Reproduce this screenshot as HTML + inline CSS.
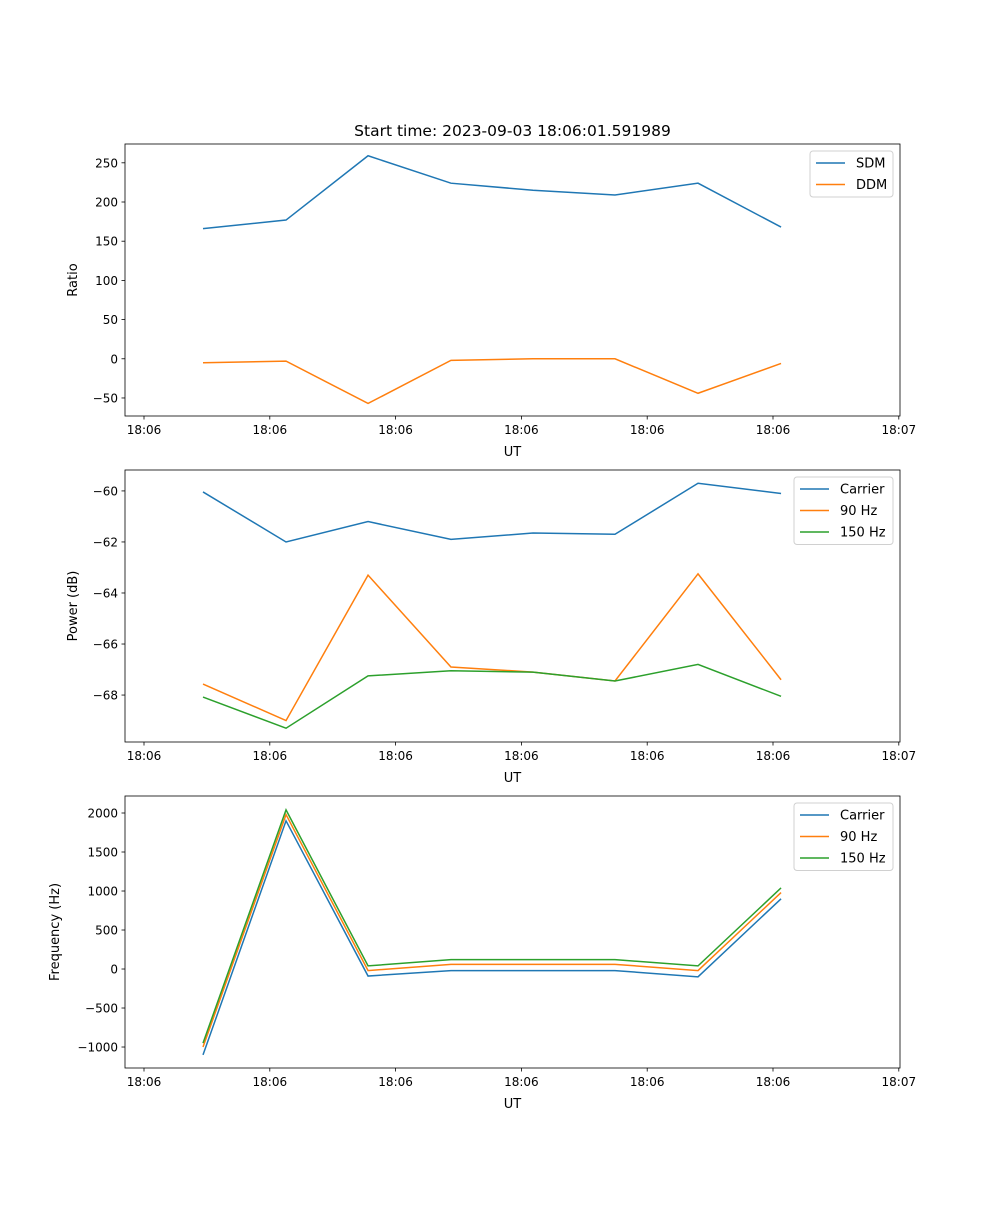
<!DOCTYPE html>
<html><head><meta charset="utf-8"><style>
html,body{margin:0;padding:0;background:#fff;}
svg text{font-family:"DejaVu Sans","Liberation Sans",sans-serif;fill:#000;}
</style></head><body>
<svg id="chart" width="1000" height="1200" xmlns="http://www.w3.org/2000/svg">
<rect width="1000" height="1200" fill="#fff"/>
<text x="512.5" y="136" font-size="15.5" text-anchor="middle">Start time: 2023-09-03 18:06:01.591989</text>
</svg>
<script>
const times = [0.469, 1.129, 1.781, 2.44, 3.092, 3.744, 4.404, 5.064];
const xTickVals = [0,1,2,3,4,5,6];
const xTickLabels = ["18:06","18:06","18:06","18:06","18:06","18:06","18:07"];
const sdm = [166, 177, 259, 224, 215, 209, 224, 168];
const ddm = [-5, -3, -57, -2, 0, 0, -44, -6];
const pwrCarrier = [-60.04, -62.0, -61.2, -61.9, -61.65, -61.7, -59.7, -60.1];
const pwr90 = [-67.57, -69.0, -63.3, -66.9, -67.1, -67.45, -63.25, -67.4];
const pwr150 = [-68.08, -69.3, -67.25, -67.05, -67.1, -67.45, -66.8, -68.05];
const frqCarrier = [-1100, 1900, -90, -20, -20, -20, -100, 900];
const frq90 = [-1000, 1980, -20, 60, 60, 60, -20, 980];
const frq150 = [-950, 2040, 40, 120, 120, 120, 40, 1040];
const ratioTicks = [-50,0,50,100,150,200,250];
const powerTicks = [-68,-66,-64,-62,-60];
const freqTicks = [-1000,-500,0,500,1000,1500,2000];

const NS="http://www.w3.org/2000/svg";
const svg=document.getElementById('chart');
const C={blue:"#1f77b4",orange:"#ff7f0e",green:"#2ca02c"};
function mk(tag,attrs,parent){const e=document.createElementNS(NS,tag);for(const k in attrs)e.setAttribute(k,attrs[k]);(parent||svg).appendChild(e);return e;}
const X0=125,X1=900;
function xs(t){return 144+125.8*t;}

function panel(name,top,ymin,ymax,yticks,ylabel,series,legend){
  const bot=top+272;
  const g=mk('g',{});
  
  
  const ys=v=>bot-(v-ymin)/(ymax-ymin)*272;
  series.forEach(s=>{
    const p=mk('polyline',{points:s.vals.map((v,i)=>xs(times[i])+','+ys(v)).join(' '),fill:'none',stroke:s.color,'stroke-width':1.5},g);
    
    
  });
  const fr=mk('rect',{x:X0,y:top,width:X1-X0,height:272,fill:'none',stroke:'#000','stroke-width':0.8},g);
  
  
  xTickVals.forEach((t,i)=>{
    const x=xs(t);
    mk('line',{x1:x,x2:x,y1:bot,y2:bot+3.5,stroke:'#000','stroke-width':0.8},g);
    const tx=mk('text',{x:x,y:bot+18,'font-size':12,'text-anchor':'middle'},g);
    tx.textContent=xTickLabels[i];
    
    
  });
  const xl=mk('text',{x:512.5,y:bot+40,'font-size':13,'text-anchor':'middle'},g);
  xl.textContent='UT';
  
  
  yticks.forEach(v=>{
    const y=ys(v);
    mk('line',{x1:X0-3.5,x2:X0,y1:y,y2:y,stroke:'#000','stroke-width':0.8},g);
    const tx=mk('text',{x:X0-7,y:y+4.5,'font-size':12,'text-anchor':'end'},g);
    tx.textContent=v<0?'\u2212'+Math.abs(v):String(v);
    
    
  });
  const yl=mk('text',{x:0,y:0,'font-size':13,'text-anchor':'middle',transform:`translate(${legend.ylx},${top+136}) rotate(-90)`},g);
  yl.textContent=ylabel;
  
  
  const lg=mk('g',{},g);
  
  
  const lh=3+series.length*21.5;
  mk('rect',{x:legend.x,y:top+7,width:X1-7-legend.x,height:lh,rx:3,fill:'#fff',stroke:'#ccc','stroke-width':1,opacity:0.9},lg);
  series.forEach((s,i)=>{
    const y=top+19+i*21.5;
    const e=mk('g',{},lg);
    
    
    mk('line',{x1:legend.x+6,x2:legend.x+35,y1:y,y2:y,stroke:s.color,'stroke-width':1.5},e);
    const t=mk('text',{x:legend.x+46,y:y+4.5,'font-size':13},e);
    t.textContent=s.label;
  });
}
panel('ratio',144,-73,274,ratioTicks,'Ratio',
  [{key:'sdm',label:'SDM',vals:sdm,color:C.blue},{key:'ddm',label:'DDM',vals:ddm,color:C.orange}],{x:810,ylx:77});
panel('power',470,-69.84,-59.18,powerTicks,'Power (dB)',
  [{key:'carrier',label:'Carrier',vals:pwrCarrier,color:C.blue},{key:'90hz',label:'90 Hz',vals:pwr90,color:C.orange},{key:'150hz',label:'150 Hz',vals:pwr150,color:C.green}],{x:794,ylx:77});
panel('frequency',796,-1269,2218,freqTicks,'Frequency (Hz)',
  [{key:'carrier',label:'Carrier',vals:frqCarrier,color:C.blue},{key:'90hz',label:'90 Hz',vals:frq90,color:C.orange},{key:'150hz',label:'150 Hz',vals:frq150,color:C.green}],{x:794,ylx:59});
</script>
</body></html>
